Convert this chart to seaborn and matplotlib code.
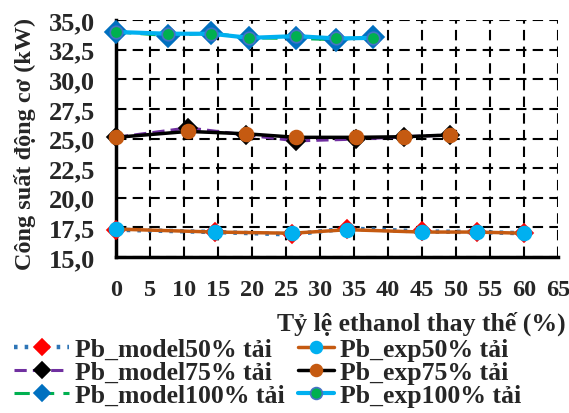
import matplotlib
matplotlib.use("Agg")
import matplotlib.pyplot as plt
import seaborn as sns

# ethanol substitution ratio (%) for each load
x50 = [0, 14.6, 25.9, 34.0, 45.0, 53.0, 60.0]
x75 = [0, 10.6, 19.1, 26.5, 35.3, 42.4, 49.1]
x100 = [0, 7.6, 14.0, 19.6, 26.5, 32.4, 37.8]

# engine power (kW)
model50 = [17.3, 17.1, 16.9, 17.4, 17.15, 17.1, 17.0]
exp50 = [17.35, 17.1, 17.0, 17.3, 17.1, 17.1, 17.0]
model75 = [25.1, 25.9, 25.3, 24.8, 24.95, 25.15, 25.3]
exp75 = [25.1, 25.6, 25.4, 25.1, 25.1, 25.15, 25.3]
model100 = [34.0, 33.7, 33.9, 33.5, 33.45, 33.35, 33.6]
exp100 = [34.0, 33.85, 33.85, 33.5, 33.65, 33.45, 33.5]

xticks = list(range(0, 70, 5))
yticks = [15.0, 17.5, 20.0, 22.5, 25.0, 27.5, 30.0, 32.5, 35.0]

sns.set_style("white")
plt.rcParams["font.family"] = ["Liberation Serif", "DejaVu Serif"]
plt.rcParams["font.weight"] = "bold"

fig = plt.figure(figsize=(5.69, 4.14), dpi=100)
ax = fig.add_axes([0.204, 0.377, 0.777, 0.572])

series = [
    # x, y, label, line color, linestyle, lw, marker, face, edge, size
    (x50, model50, "Pb_model50% tải", "#2E75B6", (0, (0.8, 1.6)), 3.2, "D", "#FF0000", "#FF0000", 9),
    (x75, model75, "Pb_model75% tải", "#7030A0", (0, (4, 2)), 2.2, "D", "#000000", "#000000", 9),
    (x100, model100, "Pb_model100% tải", "#00B050", (0, (5, 3)), 2.2, "D", "#0070C0", "#0070C0", 11),
    (x50, exp50, "Pb_exp50% tải", "#C55A11", "-", 2.5, "o", "#00B0F0", "#00B0F0", 10),
    (x75, exp75, "Pb_exp75% tải", "#000000", "-", 2.5, "o", "#C55A11", "#C55A11", 10),
    (x100, exp100, "Pb_exp100% tải", "#00B0F0", "-", 3.0, "o", "#00B050", "#4472C4", 9),
]

for xs, ys, lab, col, ls, lw, mk, fc, ec, ms in series:
    sns.lineplot(x=xs, y=ys, ax=ax, label=lab, color=col, linestyle=ls, linewidth=lw,
                 marker=mk, markerfacecolor=fc, markeredgecolor=ec, markersize=ms,
                 markeredgewidth=1.2, clip_on=False, zorder=3)

ax.set_xlim(0, 65)
ax.set_ylim(15, 35)
ax.set_xticks(xticks)
ax.set_yticks(yticks)
ax.set_yticklabels([f"{v:.1f}".replace(".", ",") for v in yticks])
ax.tick_params(axis="both", length=0)
ax.tick_params(axis="y", pad=15, labelsize=19)
ax.tick_params(axis="x", pad=16, labelsize=17.5)
for lab in ax.get_xticklabels() + ax.get_yticklabels():
    lab.set_fontweight("bold")

ax.grid(True, color="black", linestyle=(0, (5, 3)), linewidth=1.5, zorder=0)
for s in ["top", "right"]:
    ax.spines[s].set_visible(False)
for s in ["left", "bottom"]:
    ax.spines[s].set_color("black")
    ax.spines[s].set_linewidth(2.5)

ax.set_xlabel("Tỷ lệ ethanol thay thế (%)", fontsize=18.5, fontweight="bold")
ax.xaxis.set_label_coords(0.69, -0.225)
ax.set_ylabel("Công suất động cơ (kW)", fontsize=17.5, fontweight="bold")
ax.yaxis.set_label_coords(-0.18, 0.48)

# legend: two columns drawn as two legends so each column keeps its own handle length
handles, labels = ax.get_legend_handles_labels()
ax.get_legend().remove()
leg_opts = dict(loc="upper left", frameon=False, fontsize=18.5, handletextpad=0.22,
                labelspacing=0.0, borderaxespad=0, borderpad=0,
                bbox_transform=fig.transFigure)
leg1 = ax.legend(handles[:3], labels[:3], bbox_to_anchor=(14 / 569, 1 - 339 / 414),
                 handlelength=2.15, **leg_opts)
ax.add_artist(leg1)
leg2 = ax.legend(handles[3:], labels[3:], bbox_to_anchor=(298 / 569, 1 - 339 / 414),
                 handlelength=1.4, **leg_opts)
for leg in (leg1, leg2):
    for t in leg.get_texts():
        t.set_fontweight("bold")
    for h in leg.legend_handles:
        h.set_markersize(8.5)

fig.savefig("out.png", dpi=100)
